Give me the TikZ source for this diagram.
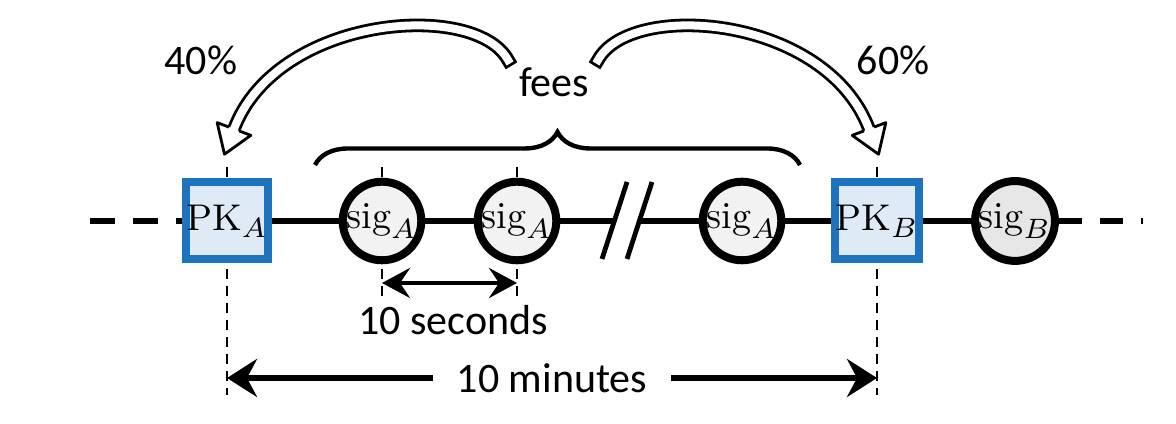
\documentclass[tikz,border=0pt]{standalone}
\usepackage{fontspec}
\newfontfamily\calibrifont{Carlito}
\usetikzlibrary{arrows.meta,calc,decorations.pathreplacing,backgrounds}

\definecolor{pkblue}{RGB}{30,115,190}
\definecolor{pkfill}{RGB}{222,235,247}
\definecolor{sigfill}{RGB}{242,242,242}
\definecolor{sigfillb}{RGB}{231,230,230}

\tikzset{
  pkbox/.style={draw=pkblue, fill=pkfill, line width=2pt, minimum size=19.25pt,
    inner sep=0pt, font=\fontsize{9.3}{11}\selectfont},
  sigcirc/.style={circle, draw=black, fill=sigfill, line width=2pt, minimum size=19.5pt,
    inner sep=0pt, font=\fontsize{9.5}{11}\selectfont},
  linkline/.style={line width=1.5pt},
  linkdash/.style={line width=1.5pt, dash pattern=on 6.25pt off 4.5pt},
  slash/.style={line width=1.2pt},
  guide/.style={line width=0.5pt, dash pattern=on 2.5pt off 1.75pt},
  txt/.style={font=\calibrifont\fontsize{10.5}{12}\selectfont, inner sep=0pt},
  secarrow/.style={line width=1.1pt, {Stealth[length=7pt,width=7.5pt,inset=2.5pt]}-{Stealth[length=7pt,width=7.5pt,inset=2.5pt]}},
  minarrow/.style={line width=1.5pt, {Stealth[length=7.5pt,width=9.5pt,inset=2.5pt]}-{Stealth[length=7.5pt,width=9.5pt,inset=2.5pt]}},
  feebrace/.style={line width=1.1pt, decorate, decoration={brace, amplitude=8.25pt}},
  hollow/.style={line width=0.7pt, line join=round},
  hollowbody/.style={hollow, double=white, double distance=2pt, line cap=rect},
}

\begin{document}
\begin{tikzpicture}[x=0.25pt,y=0.25pt,yscale=-1,xscale=1]
\useasboundingbox (0,0) rectangle (1176,424);

% blocks on the chain
\node[pkbox] (pka) at (227,221) {$\mathrm{PK}_A$};
\node[sigcirc] (sa1) at (382,221) {$\mathrm{sig}_A$};
\node[sigcirc] (sa2) at (517,221) {$\mathrm{sig}_A$};
\node[sigcirc] (sa3) at (742,221) {$\mathrm{sig}_A$};
\node[pkbox] (pkb) at (877,221) {$\mathrm{PK}_B$};
\node[sigcirc, fill=sigfillb] (sgb) at (1015,221) {$\mathrm{sig}_B$};

\coordinate (chainl) at (90,221);
\coordinate (chainr) at (1143,221);
\coordinate (brka) at (614,221);
\coordinate (brkb) at (640,221);

\draw[linkdash] (chainl) -- (pka);
\draw[linkline] (pka) -- (sa1) -- (sa2) -- (brka);
\draw[linkline] (brkb) -- (sa3) -- (pkb) -- (sgb);
\draw[linkdash, dash pattern=on 5.75pt off 4.5pt] (sgb) -- (chainr);

% time skipped
\draw[slash] (602,259) -- (627,182);
\draw[slash] (627,259) -- (652,182);

% guide lines
\coordinate (gtop) at (0,167);
\coordinate (gsec) at (0,300);
\coordinate (gmin) at (0,395);
\begin{scope}[on background layer]
\draw[guide] (pka |- gtop) -- (pka |- gmin);
\draw[guide] (pkb |- gtop) -- (pkb |- gmin);
\draw[guide] (sa1 |- gtop) -- (sa1 |- gsec);
\draw[guide] (sa2 |- gtop) -- (sa2 |- gsec);
\end{scope}

% intervals
\coordinate (ysec) at (0,283);
\coordinate (ymin) at (0,378);
\draw[secarrow] (sa1 |- ysec) -- (sa2 |- ysec);
\node[txt, anchor=base] (secs) at (453,335) {10 seconds};
\draw[minarrow] (pka |- ymin) -- node[txt, fill=white, inner xsep=6pt, inner ysep=2pt] (mins) {10 minutes} (pkb |- ymin);

% fees
\draw[feebrace] (315,165) -- (800,165);
\node[txt, anchor=base] (fees) at (554,97) {fees};
\node[txt, anchor=base] (pcta) at (201,75) {40\%};
\node[txt, anchor=base] (pctb) at (893,75) {60\%};

% share to A
\coordinate (las) at (508,60);
\coordinate (lac1) at (475,0);
\coordinate (lac2) at (277,15);
\coordinate (lab) at (234,129);
\coordinate (lat) at ($(lab)!-6.75pt!(lac2)$);
\draw[hollowbody] (las) .. controls (lac1) and (lac2) .. (lab);
\fill[white] ($(lab)!4.5pt!90:(lat)$) -- (lat) -- ($(lab)!4.5pt!-90:(lat)$) -- cycle;
\draw[hollow] ($(lab)!1.35pt!90:(lat)$) -- ($(lab)!4.5pt!90:(lat)$) -- (lat)
  -- ($(lab)!4.5pt!-90:(lat)$) -- ($(lab)!1.35pt!-90:(lat)$);

% share to B
\coordinate (ras) at (598,60);
\coordinate (rac1) at (631,0);
\coordinate (rac2) at (826,15);
\coordinate (rab) at (869,129);
\coordinate (rat) at ($(rab)!-6.75pt!(rac2)$);
\draw[hollowbody] (ras) .. controls (rac1) and (rac2) .. (rab);
\fill[white] ($(rab)!4.5pt!90:(rat)$) -- (rat) -- ($(rab)!4.5pt!-90:(rat)$) -- cycle;
\draw[hollow] ($(rab)!1.35pt!90:(rat)$) -- ($(rab)!4.5pt!90:(rat)$) -- (rat)
  -- ($(rab)!4.5pt!-90:(rat)$) -- ($(rab)!1.35pt!-90:(rat)$);

\end{tikzpicture}
\end{document}
